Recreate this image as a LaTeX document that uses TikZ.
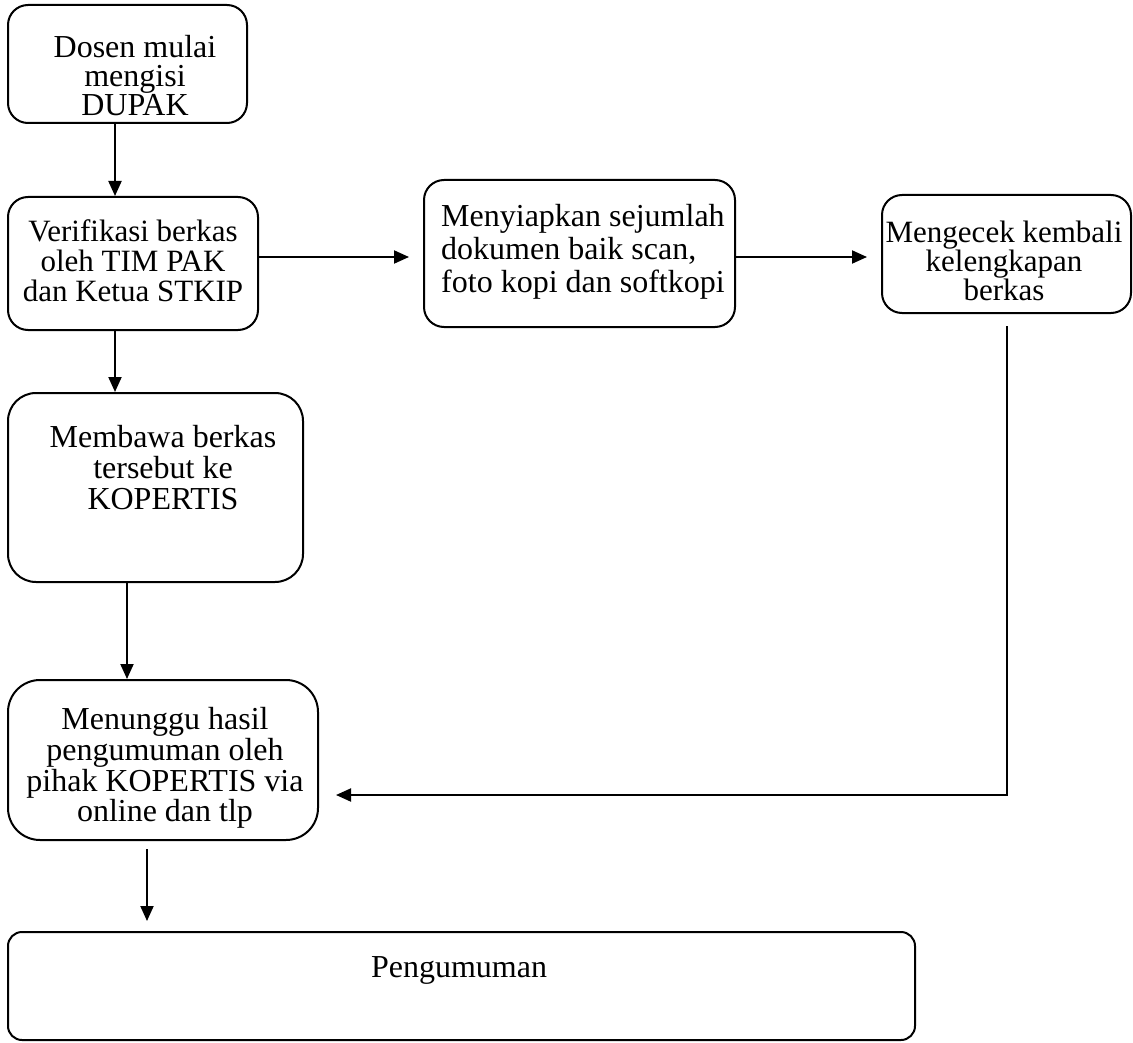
\documentclass[tikz,border=0pt]{standalone}
\usepackage{fontspec}
\setmainfont{Liberation Serif}
\usetikzlibrary{arrows.meta,calc}
\tikzset{
  box/.style={draw, line width=2pt, rounded corners=20pt, inner sep=0pt},
  txt/.style={inner sep=0pt, align=center},
  arr/.style={line width=2pt, -{Triangle[length=15pt,width=13pt]}},
}
\begin{document}
\begin{tikzpicture}[x=1pt,y=-1pt]
\useasboundingbox (0,0) rectangle (1133,1043);
% boxes
\node[box, minimum width=239, minimum height=118] (b1) at (127.5,64) {};
\node[box, minimum width=250, minimum height=133] (b2) at (133,263.5) {};
\node[box, minimum width=311, minimum height=147] (b3) at (579.5,253.5) {};
\node[box, minimum width=249, minimum height=118] (b4) at (1006.5,254) {};
\node[box, minimum width=295, minimum height=189, rounded corners=28pt] (b7) at (155.5,487.5) {};
\node[box, minimum width=310, minimum height=160, rounded corners=32pt] (b5) at (163,760) {};
\node[box, minimum width=907, minimum height=108, rounded corners=14pt] (b6) at (461.5,986) {};
% texts
\node[txt, font=\fontsize{32}{29}\selectfont] (t1) at (135,76) {Dosen mulai\\mengisi\\DUPAK};
\node[txt, font=\fontsize{31}{30}\selectfont] (t2) at (133,261) {Verifikasi berkas\\oleh TIM PAK\\dan Ketua STKIP};
\node[txt, align=left, anchor=west, font=\fontsize{32}{33}\selectfont] (t3) at (441,252) {Menyiapkan sejumlah\\dokumen baik scan,\\foto kopi dan softkopi};
\node[txt, font=\fontsize{31}{28}\selectfont] (t4) at (1004,261) {Mengecek kembali\\kelengkapan\\berkas};
\node[txt, font=\fontsize{32}{31}\selectfont] (t7) at (163,468) {Membawa berkas\\tersebut ke\\KOPERTIS};
\node[txt, font=\fontsize{32}{30.7}\selectfont] (t5) at (165,768) {Menunggu hasil\\pengumuman oleh\\pihak KOPERTIS via\\online dan tlp};
\node[txt, font=\fontsize{32}{29}\selectfont] (t6) at (459,970) {Pengumuman};
% connectors
\draw[arr] ([xshift=-12.5pt]b1.south) -- ([xshift=-18pt]b2.north);
\draw[arr] ([yshift=6.5pt]b2.east) -- ([xshift=-14pt,yshift=-3.5pt]b3.west);
\draw[arr] ([yshift=-3.5pt]b3.east) -- ([xshift=-14pt,yshift=-3pt]b4.west);
\draw[arr] ([xshift=-18pt]b2.south) -- ([xshift=-40.5pt]b7.north);
\draw[arr] ([xshift=-28.5pt]b7.south) -- ([xshift=-36pt]b5.north);
\draw[arr] ([xshift=-16pt,yshift=-8pt]b5.south) -- ([xshift=-314.5pt,yshift=10pt]b6.north);
\draw[arr] ([xshift=0.5pt,yshift=-12pt]b4.south) |- ([xshift=17pt,yshift=-35pt]b5.east);
\end{tikzpicture}
\end{document}
